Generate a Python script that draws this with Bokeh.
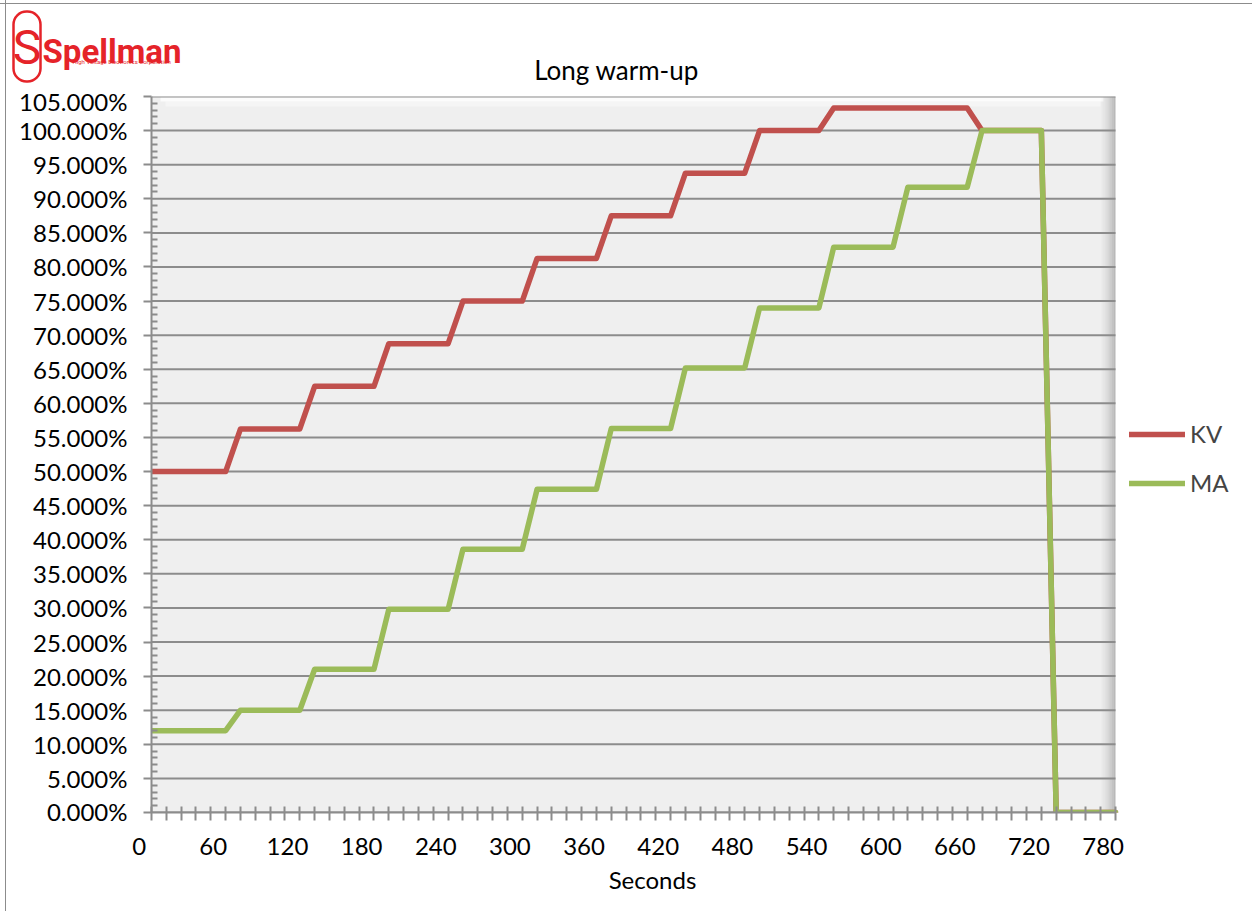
from bokeh.plotting import figure
from bokeh.layouts import column
from bokeh.models import (Range1d, FixedTicker, NumeralTickFormatter, Label,
                          BoxAnnotation, Legend, LegendItem, CustomJSTickFormatter)
from bokeh.embed import file_html
from bokeh.resources import INLINE

# ---- data ----
seconds = [0, 60, 72, 120, 132, 180, 192, 240, 252, 300, 312, 360, 372,
           420, 432, 480, 492, 540, 552, 600, 612, 660, 672, 720, 732, 780]
kv = [0.50, 0.50, 0.5625, 0.5625, 0.625, 0.625, 0.6875, 0.6875, 0.75, 0.75,
      0.8125, 0.8125, 0.875, 0.875, 0.9375, 0.9375, 1.0, 1.0, 1.033, 1.033,
      1.033, 1.033, 1.0, 1.0, 0.0, 0.0]
ma = [0.12, 0.12, 0.15, 0.15, 0.21, 0.21, 0.298, 0.298, 0.386, 0.386,
      0.474, 0.474, 0.563, 0.563, 0.652, 0.652, 0.740, 0.740, 0.829, 0.829,
      0.917, 0.917, 1.0, 1.0, 0.0, 0.0]
x_tick_labels = [0, 60, 120, 180, 240, 300, 360, 420, 480, 540, 600, 660, 720, 780]
x_ticks = list(range(0, 781, 12))
y_ticks = [round(i * 0.05, 2) for i in range(22)]
y_minor = [round(i * 0.01, 2) for i in range(106) if i % 5]
X_MAX = 780
Y_MAX = 1.05

FONT = "Lato"
GRID = "#8c8c8c"
RED = "#e52329"
FS = "24px"

W, H = 1252, 911
L, R, T, B = 151, 1115, 96, 812   # plot-area edges in page pixels
TOP_H = 86
MAIN_H = 739
BOT_H = H - TOP_H - MAIN_H

def sx(px):                 # page px -> seconds (main x scale)
    return (px - L) * X_MAX / (R - L)
def sy(py):                 # page px -> fraction (main y scale)
    return (B - py) * Y_MAX / (B - T)

common = dict(output_backend="svg", toolbar_location=None, frame_align=False,
              border_fill_alpha=0, outline_line_color=None)

# ---------- top band: logo + title ----------
top = figure(width=W, height=TOP_H, x_range=Range1d(0, W), y_range=Range1d(TOP_H, 0),
             min_border=0, x_axis_location=None, y_axis_location=None,
             background_fill_alpha=0, **common)
top.xgrid.visible = False
top.ygrid.visible = False
top.add_layout(BoxAnnotation(left=13, right=40, top=11, bottom=81, fill_alpha=0,
                             line_color=RED, line_alpha=1, line_width=2.5, border_radius=13))
top.add_layout(Label(x=26.5, y=47, text="S", text_align="center", text_baseline="middle",
                     text_font="Roboto", text_font_size="48px", text_color=RED))
top.add_layout(Label(x=42, y=51, text="Spellman", text_align="left",
                     text_baseline="alphabetic", text_font="Roboto",
                     text_font_style="bold", text_font_size="33px", text_color=RED))
top.add_layout(Label(x=72, y=61, text="High Voltage Electronics Corporation",
                     text_align="left", text_baseline="alphabetic",
                     text_font="Roboto", text_font_size="6px", text_color=RED))
top.add_layout(Label(x=616, y=69, text="Long warm-up", text_align="center",
                     text_baseline="middle", text_font=FONT, text_font_size="26px",
                     text_color="black"))

# ---------- main chart (frame runs to the right edge so the legend fits inside) ----------
p = figure(width=W, height=MAIN_H, x_range=Range1d(0, sx(W)), y_range=Range1d(0, Y_MAX),
           min_border_left=L, min_border_right=0, min_border_top=T - TOP_H,
           min_border_bottom=MAIN_H - (B - TOP_H),
           background_fill_alpha=0, **common)

xa = p.xaxis[0]
xa.ticker = FixedTicker(ticks=x_ticks, minor_ticks=[])
xa.bounds = (0, X_MAX)
xa.formatter = CustomJSTickFormatter(code="return ''")
xa.major_label_text_font_size = "1px"
xa.major_label_standoff = 0
xa.major_tick_in = 6
xa.major_tick_out = 8
xa.major_tick_line_color = GRID
xa.major_tick_line_width = 2
xa.minor_tick_line_color = None
xa.axis_line_color = GRID
xa.axis_line_width = 2

ya = p.yaxis[0]
ya.ticker = FixedTicker(ticks=y_ticks, minor_ticks=y_minor)
ya.formatter = NumeralTickFormatter(format="0.000%")
ya.major_tick_in = 0
ya.major_tick_out = 8
ya.major_tick_line_color = GRID
ya.major_tick_line_width = 2
ya.minor_tick_in = 6
ya.minor_tick_out = 0
ya.minor_tick_line_color = GRID
ya.minor_tick_line_width = 2
ya.axis_line_color = GRID
ya.axis_line_width = 2
ya.major_label_standoff = 16
ya.major_label_text_font = FONT
ya.major_label_text_font_size = FS
ya.major_label_text_color = "black"

p.xgrid.visible = False
p.ygrid.visible = False

# plot area (grey wall) with bevel-like shading
p.add_layout(BoxAnnotation(left=0, right=X_MAX, top=Y_MAX, bottom=0, fill_color="#efefef",
                           fill_alpha=1, line_color=None, level="image"))
p.add_layout(BoxAnnotation(left=sx(160), right=sx(1103), top=Y_MAX, bottom=sy(101),
                           fill_color="white", fill_alpha=0.8, line_color=None, level="image"))
p.add_layout(BoxAnnotation(left=sx(165), right=sx(1100), top=sy(101), bottom=sy(106),
                           fill_color="white", fill_alpha=0.4, line_color=None, level="image"))
for i, a in enumerate([0.04, 0.08, 0.13, 0.19, 0.26, 0.34, 0.42]):
    p.add_layout(BoxAnnotation(left=sx(1101 + 2 * i), right=sx(1103 + 2 * i),
                               top=Y_MAX, bottom=0, fill_color="#6e6e6e", fill_alpha=a,
                               line_color=None, level="image"))

# horizontal gridlines limited to the plot area
p.segment(x0=[0] * len(y_ticks), y0=y_ticks, x1=[X_MAX] * len(y_ticks), y1=y_ticks,
          line_color=GRID, line_width=2)

kv_r = p.line(seconds, kv, line_color="#c0504d", line_width=5.5, line_join="round", line_cap="round")
ma_r = p.line(seconds, ma, line_color="#9bbb59", line_width=5.5, line_join="round", line_cap="round")

legend = Legend(items=[LegendItem(label="KV", renderers=[kv_r]),
                       LegendItem(label="MA", renderers=[ma_r])],
                location=(1129 - L, B - 497), glyph_width=56, glyph_height=20,
                label_height=20, spacing=20, label_standoff=5, padding=0, margin=0,
                border_line_color=None, background_fill_alpha=0,
                label_text_font=FONT, label_text_font_size=FS)
p.add_layout(legend)

# ---------- bottom band: x tick labels (offset like the original) + axis title ----------
BL = 52   # page px where this band's frame starts, so that the axis title centres at 652
bot = figure(width=W, height=BOT_H,
             x_range=Range1d(sx(BL) + 10, sx(W) + 10), y_range=Range1d(0, 1),
             min_border_left=BL, min_border_right=0, min_border_top=0,
             min_border_bottom=BOT_H - 4, y_axis_location=None,
             background_fill_alpha=0, **common)
bot.xgrid.visible = False
bot.ygrid.visible = False
ba = bot.xaxis[0]
ba.ticker = FixedTicker(ticks=x_tick_labels, minor_ticks=[])
ba.axis_line_color = None
ba.major_tick_line_color = None
ba.minor_tick_line_color = None
ba.major_tick_in = 0
ba.major_tick_out = 0
ba.major_label_standoff = 8
ba.major_label_text_font = FONT
ba.major_label_text_font_size = FS
ba.major_label_text_color = "black"
ba.axis_label = "Seconds"
ba.axis_label_standoff = 7
ba.axis_label_text_font = FONT
ba.axis_label_text_font_size = FS
ba.axis_label_text_font_style = "normal"
ba.axis_label_text_color = "black"

border_css = ("linear-gradient(to bottom, transparent 3px, #8c8c8c 3px, #8c8c8c 4px, transparent 4px), "
              "linear-gradient(to right, white 5px, #8c8c8c 5px, #8c8c8c 6px, white 6px)")
layout = column(top, p, bot, spacing=0,
                styles={"background": border_css, "width": f"{W}px", "height": f"{H}px"})
open("out.html", "w").write(file_html(layout, INLINE))
